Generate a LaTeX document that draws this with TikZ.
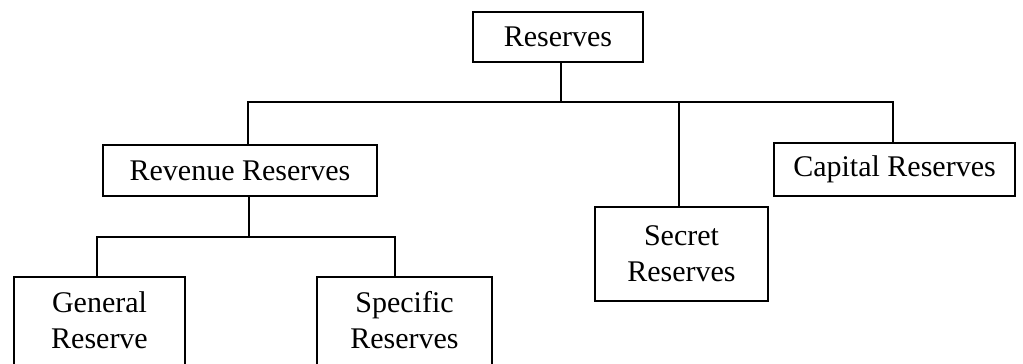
\documentclass[tikz,border=0pt]{standalone}
\usepackage{fontspec}
\setmainfont{Liberation Serif}
\begin{document}
\begin{tikzpicture}[x=1pt,y=-1pt,
  every node/.style={font=\fontsize{30}{36}\selectfont, inner sep=0pt, align=center},
  boxnode/.style={draw, line width=1.8pt},
  link/.style={line width=1.8pt}]
\useasboundingbox (0,0) rectangle (1023,364);
\clip (0,0) rectangle (1023,364);
% boxes
\node[boxnode, minimum width=170, minimum height=50] (res) at (558,37) {Reserves};
\node[boxnode, minimum width=274, minimum height=51] (rev) at (240,170.5) {Revenue Reserves};
\node[boxnode, minimum width=173, minimum height=94] (sec) at (681.5,254) {Secret\\Reserves};
\node[boxnode, minimum width=241, minimum height=53] (cap) at (894.5,169.5) {Capital Reserves};
\node[minimum width=171, minimum height=87] (gen) at (99.5,320.5) {General\\Reserve};
\node[minimum width=175, minimum height=87] (spe) at (404.5,320.5) {Specific\\Reserves};
\draw[link] ([yshift=-20pt]gen.south west) -- (gen.north west) -- (gen.north east) -- ([yshift=-20pt]gen.south east);
\draw[link] ([yshift=-20pt]spe.south west) -- (spe.north west) -- (spe.north east) -- ([yshift=-20pt]spe.south east);
% upper bus
\coordinate (t0) at (561,102);
\coordinate (t1) at (248,102);
\coordinate (t2) at (679,102);
\coordinate (t3) at (893,102);
\draw[link] (t0 |- res.south) -- (t0);
\draw[link] (t1 |- rev.north) -- (t1) -- (t3) -- (t3 |- cap.north);
\draw[link] (t2) -- (t2 |- sec.north);
% lower bus
\coordinate (l0) at (249,237);
\coordinate (l1) at (97,237);
\coordinate (l2) at (395,237);
\draw[link] (l0 |- rev.south) -- (l0);
\draw[link] (l1 |- gen.north) -- (l1) -- (l2) -- (l2 |- spe.north);
\end{tikzpicture}
\end{document}
